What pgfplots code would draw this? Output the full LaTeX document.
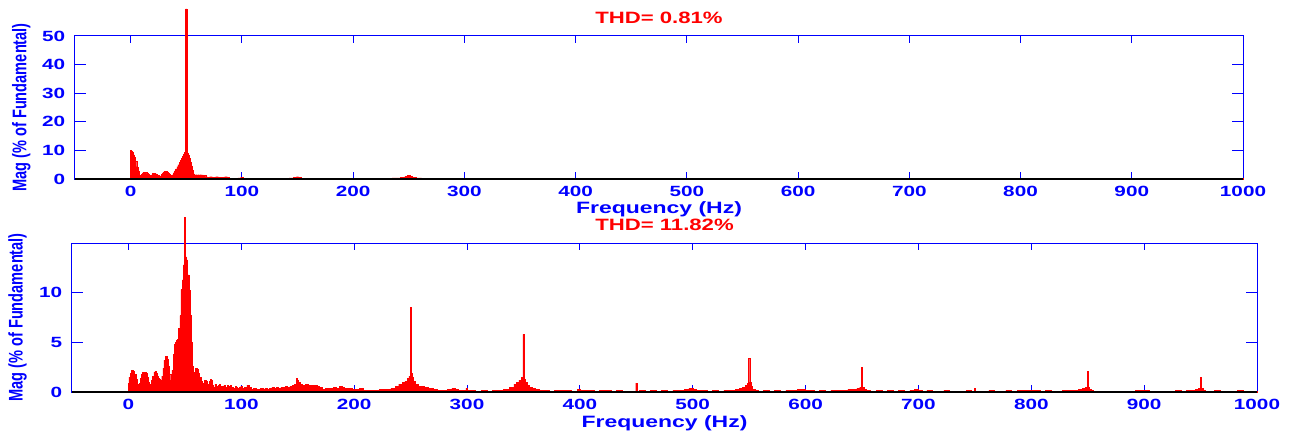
\documentclass[border=0pt]{standalone}
\usepackage{fontspec}
\setmainfont{Liberation Sans}
\usepackage{pgfplots}
\pgfplotsset{compat=1.18}

\definecolor{mblue}{RGB}{0,0,255}
\definecolor{mred}{RGB}{255,0,0}

\pgfplotsset{
  spec/.style={
    scale only axis, clip=false,
    xmin=-50, xmax=1000, ymin=0,
    xtick={0,100,...,1000},
    axis line style={mblue, line width=0.5pt},
    tick align=inside,
    xtick style={mblue, line width=0.5pt, /pgfplots/major tick length=3.5pt},
    ytick style={mblue, line width=0.5pt, /pgfplots/major tick length=5.5pt},
    /pgf/number format/assume math mode=true,
    /pgf/number format/1000 sep={},
    ticklabel style={font=\fontsize{7.4}{8}\selectfont\bfseries, text=mblue, xscale=1.4},
    xlabel={Frequency (Hz)},
    xlabel style={font=\fontsize{8.2}{9}\selectfont\bfseries, text=mblue, xscale=1.4,
      at={(axis description cs:0.5,-0.21)}, anchor=center},
    ylabel={\scalebox{1}[1.35]{Mag (\% of Fundamental)}},
    ylabel style={font=\fontsize{7.3}{8}\selectfont\bfseries, text=mblue,
      at={(axis description cs:-0.046,0.5)}, anchor=center},
    every axis title shift=0pt,
    title style={font=\fontsize{8.2}{9}\selectfont\bfseries, text=mred, xscale=1.35,
      anchor=center},
  },
  spectrum/.style={const plot mark mid, draw=mred, fill=mred, line width=0.2pt},
  baseline/.style={black, line width=0.6pt},
}

\begin{document}
\begin{tikzpicture}
\path[use as bounding box] (0,0) rectangle (646pt,217.5pt);

% upper spectrum, THD 0.81 %
\begin{axis}[spec,
  at={(37.5pt,128pt)}, anchor=south west,
  width=584pt, height=71.5pt,
  ymax=50, ytick={0,10,...,50},
  title={THD= 0.81\%},
  title style={at={(axis description cs:0.5,1.126)}},
]
\addplot[spectrum] coordinates {
(0,10.1)(1,9.8)(2,9.2)(3,8.4)(4,7.6)(5,6.2)(6,4.3)(7,2.6)(8,1.4)(9,1.1)
(10,1.6)(11,2.1)(12,2.4)(13,2.4)(14,2.3)(15,2.0)(16,1.6)(17,1.2)(18,1.0)(19,1.4)
(20,1.9)(21,2.0)(22,2.0)(23,1.8)(24,1.5)(25,1.2)(26,1.0)(27,1.1)(28,1.6)(29,2.1)
(30,2.5)(31,2.6)(32,2.6)(33,2.5)(34,2.2)(35,1.6)(36,1.2)(37,1.1)(38,1.5)(39,2.2)
(40,2.9)(41,3.5)(42,4.3)(43,5.0)(44,5.8)(45,6.5)(46,7.2)(47,7.9)(48,8.6)(49,9.2)
(50,59.5)(51,9.0)(52,8.4)(53,7.3)(54,6.0)(55,4.6)(56,3.0)(57,1.8)(58,1.4)(59,1.5)
(60,1.4)(61,1.5)(62,1.4)(63,1.5)(64,1.4)(65,1.4)(66,1.3)(67,1.2)(68,0.8)(70,0.7)
(72,0.8)(75,0.6)(78,0.8)(80,0.7)(83,0.7)(86,0.8)(88,0.6)(90,0.3)(95,0.3)(98,0.4)
(100,0.7)(101,0.5)(102,0.3)(110,0.3)(120,0.25)(130,0.3)(140,0.3)(145,0.4)(148,0.6)
(150,0.8)(152,0.5)(155,0.3)(170,0.25)(190,0.3)(210,0.25)(230,0.3)(240,0.4)(245,0.7)
(248,1.0)(250,1.2)(252,1.0)(255,0.6)(258,0.4)(265,0.3)(300,0.25)(350,0.3)(400,0.2)
(450,0.25)(500,0.2)(550,0.25)(600,0.2)(650,0.2)(700,0.2)(750,0.2)(800,0.2)
(850,0.2)(900,0.2)(950,0.2)(1000,0.2)
} \closedcycle;
\addplot[baseline] coordinates {(-50,0) (1000,0)};
\end{axis}

% lower spectrum, THD 11.82 %
\begin{axis}[spec,
  at={(36pt,21.5pt)}, anchor=south west,
  width=592.5pt, height=74.5pt,
  ymax=15, ytick={0,5,10},
  title={THD= 11.82\%},
  title style={at={(axis description cs:0.5,1.12)}},
]
\addplot[spectrum] coordinates {
(0,0.9)(1,1.5)(2,1.9)(3,2.2)(4,2.2)(5,2.1)(6,1.8)(7,1.3)(8,0.8)(9,0.5)
(10,0.9)(11,1.4)(12,1.8)(13,2.0)(14,2.0)(15,2.0)(16,1.9)(17,1.5)(18,1.0)(19,0.7)
(20,0.8)(21,1.2)(22,1.6)(23,2.0)(24,2.1)(25,1.9)(26,1.6)(27,1.4)(28,1.3)(29,1.2)
(30,1.6)(31,2.4)(32,3.2)(33,3.6)(34,3.6)(35,3.3)(36,2.6)(37,1.8)(38,1.2)(39,2.2)
(40,3.8)(41,4.8)(42,5.0)(43,5.2)(44,5.3)(45,6.4)(46,7.7)(47,10.3)(48,11.3)(49,12.8)
(50,17.6)(51,13.6)(52,13.3)(53,11.8)(54,10.2)(55,7.7)(56,5.0)(57,2.6)(58,1.6)(59,2.0)
(60,2.4)(61,2.3)(62,1.9)(63,1.2)(64,1.5)(65,1.1)(66,0.6)(67,0.9)(68,1.2)(69,1.1)
(70,0.5)(71,0.8)(72,1.1)(73,1.3)(74,1.2)(75,0.7)(76,0.5)(77,0.8)(78,0.6)(79,0.4)
(80,0.7)(81,0.8)(82,0.6)(83,0.4)(84,0.6)(85,0.7)(86,0.5)(87,0.3)(88,0.7)(89,0.6)
(90,0.4)(91,0.7)(92,0.5)(93,0.3)(94,0.4)(95,0.6)(96,0.5)(97,0.4)(98,0.3)(99,0.5)
(100,0.6)(102,0.4)(104,0.5)(106,0.7)(108,0.5)(110,0.3)(112,0.4)(114,0.3)(116,0.3)
(118,0.4)(120,0.3)(122,0.4)(124,0.3)(126,0.4)(128,0.5)(130,0.4)(132,0.5)(134,0.4)
(136,0.5)(138,0.5)(140,0.6)(142,0.5)(144,0.6)(146,0.7)(148,0.8)(149,1.4)(150,1.2)
(151,1.0)(153,0.8)(155,0.7)(158,0.8)(160,0.7)(163,0.7)(166,0.7)(168,0.6)(170,0.5)
(173,0.3)(176,0.4)(180,0.4)(183,0.5)(186,0.4)(188,0.6)(190,0.5)(193,0.4)(196,0.4)
(200,0.3)(203,0.3)(206,0.4)(210,0.2)(215,0.2)(220,0.2)(225,0.3)(230,0.3)(235,0.4)
(238,0.6)(241,0.8)(244,1.0)(246,1.1)(248,1.4)(249,1.6)(250,8.5)(251,1.9)(252,1.5)
(253,1.1)(255,0.8)(258,0.6)(261,0.6)(264,0.5)(268,0.4)(272,0.3)(276,0.2)(280,0.2)
(285,0.3)(288,0.4)(291,0.3)(294,0.2)(298,0.2)(300,0.4)(301,0.2)(305,0.2)(310,0.1)
(315,0.2)(320,0.1)(325,0.2)(330,0.2)(335,0.3)(340,0.5)(343,0.8)(345,1.0)(347,1.2)
(349,1.5)(350,5.8)(351,1.3)(352,1.0)(354,0.7)(356,0.5)(359,0.4)(362,0.3)(366,0.2)
(370,0.2)(375,0.1)(380,0.2)(385,0.2)(390,0.2)(395,0.1)(400,0.3)(401,0.2)(405,0.2)
(410,0.2)(415,0.1)(420,0.2)(425,0.2)(430,0.1)(435,0.2)(440,0.1)(445,0.1)(449,0.1)
(450,0.9)(451,0.1)(455,0.2)(460,0.1)(465,0.2)(470,0.1)(475,0.2)(480,0.1)(485,0.2)
(490,0.2)(495,0.3)(498,0.4)(502,0.3)(505,0.2)(510,0.2)(515,0.1)(520,0.2)(525,0.1)
(530,0.2)(535,0.2)(540,0.3)(543,0.4)(545,0.5)(548,0.7)(549,0.9)(550,3.4)(551,1.0)
(552,0.6)(554,0.3)(556,0.2)(560,0.1)(565,0.2)(570,0.1)(575,0.2)(580,0.1)(585,0.2)
(590,0.2)(595,0.3)(598,0.3)(602,0.2)(606,0.2)(610,0.1)(615,0.2)(620,0.1)(625,0.2)
(630,0.2)(635,0.2)(640,0.3)(644,0.3)(647,0.4)(649,0.5)(650,2.5)(651,0.5)(653,0.3)
(655,0.2)(660,0.1)(665,0.2)(670,0.1)(675,0.2)(680,0.1)(685,0.2)(690,0.1)(695,0.2)
(698,0.3)(702,0.2)(705,0.1)(710,0.2)(715,0.1)(720,0.1)(725,0.2)(730,0.1)(735,0.1)
(740,0.1)(745,0.2)(749,0.1)(750,0.4)(751,0.1)(755,0.1)(760,0.1)(765,0.2)(770,0.1)
(775,0.1)(780,0.2)(785,0.1)(790,0.2)(795,0.2)(798,0.2)(802,0.2)(806,0.2)(810,0.1)
(815,0.2)(820,0.1)(825,0.1)(830,0.2)(835,0.2)(840,0.2)(844,0.3)(847,0.4)(849,0.5)
(850,2.1)(851,0.5)(852,0.3)(854,0.2)(856,0.1)(860,0.1)(865,0.1)(870,0.1)(875,0.1)
(880,0.1)(885,0.1)(890,0.1)(895,0.2)(898,0.2)(903,0.2)(906,0.1)(910,0.1)(915,0.1)
(920,0.1)(925,0.1)(930,0.2)(935,0.1)(940,0.2)(944,0.2)(947,0.3)(949,0.4)(950,1.5)
(951,0.4)(953,0.2)(955,0.1)(960,0.1)(965,0.2)(970,0.1)(975,0.1)(980,0.1)(985,0.2)
(990,0.1)(995,0.1)(1000,0.1)
} \closedcycle;
\addplot[baseline] coordinates {(-50,0) (1000,0)};
\end{axis}
\end{tikzpicture}
\end{document}
